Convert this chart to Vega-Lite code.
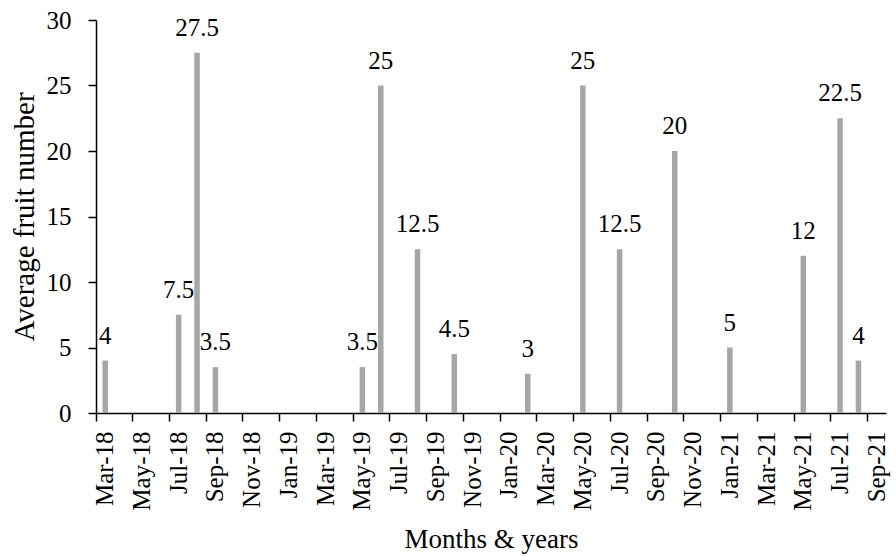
{
  "$schema": "https://vega.github.io/schema/vega-lite/v6.json",
  "width": 790,
  "height": 393,
  "autosize": {"type": "none"},
  "padding": {"left": 96, "top": 20, "right": 10, "bottom": 143},
  "background": "white",
  "config": {"view": {"stroke": null}, "font": "Liberation Serif"},
  "data": {
    "values": [
      {"month": "Mar-18", "value": 4},
      {"month": "Jul-18", "value": 7.5},
      {"month": "Aug-18", "value": 27.5},
      {"month": "Sep-18", "value": 3.5},
      {"month": "May-19", "value": 3.5},
      {"month": "Jun-19", "value": 25},
      {"month": "Aug-19", "value": 12.5},
      {"month": "Oct-19", "value": 4.5},
      {"month": "Feb-20", "value": 3},
      {"month": "May-20", "value": 25},
      {"month": "Jul-20", "value": 12.5},
      {"month": "Oct-20", "value": 20},
      {"month": "Jan-21", "value": 5},
      {"month": "May-21", "value": 12},
      {"month": "Jul-21", "value": 22.5},
      {"month": "Aug-21", "value": 4}
    ]
  },
  "encoding": {
    "x": {
      "field": "month",
      "type": "ordinal",
      "sort": null,
      "scale": {
        "domain": ["Mar-18","Apr-18","May-18","Jun-18","Jul-18","Aug-18","Sep-18","Oct-18","Nov-18","Dec-18",
                   "Jan-19","Feb-19","Mar-19","Apr-19","May-19","Jun-19","Jul-19","Aug-19","Sep-19","Oct-19","Nov-19","Dec-19",
                   "Jan-20","Feb-20","Mar-20","Apr-20","May-20","Jun-20","Jul-20","Aug-20","Sep-20","Oct-20","Nov-20","Dec-20",
                   "Jan-21","Feb-21","Mar-21","Apr-21","May-21","Jun-21","Jul-21","Aug-21","Sep-21"],
        "paddingInner": 0,
        "paddingOuter": 0
      },
      "axis": {
        "values": ["Mar-18","May-18","Jul-18","Sep-18","Nov-18","Jan-19","Mar-19","May-19","Jul-19","Sep-19","Nov-19",
                   "Jan-20","Mar-20","May-20","Jul-20","Sep-20","Nov-20","Jan-21","Mar-21","May-21","Jul-21","Sep-21"],
        "bandPosition": 0,
        "labelOffset": 0,
        "labelAngle": 270,
        "labelFontSize": 25,
        "labelColor": "black",
        "labelPadding": 10,
        "tickColor": "black",
        "tickSize": 8,
        "tickWidth": 1.5,
        "domainColor": "black",
        "domainWidth": 1.5,
        "grid": false,
        "title": "Months & years",
        "titleFontSize": 27,
        "titleFontWeight": "normal",
        "titleColor": "black",
        "titlePadding": 16
      }
    },
    "y": {
      "field": "value",
      "type": "quantitative",
      "scale": {"domain": [0, 30], "nice": false},
      "axis": {
        "values": [0, 5, 10, 15, 20, 25, 30],
        "labelFontSize": 25,
        "labelColor": "black",
        "labelPadding": 17,
        "tickColor": "black",
        "tickSize": 8,
        "tickWidth": 1.5,
        "domainColor": "black",
        "domainWidth": 1.5,
        "grid": false,
        "title": "Average fruit number",
        "titleFontSize": 29,
        "titleFontWeight": "normal",
        "titleColor": "black",
        "titleX": -72,
        "titleBaseline": "middle"
      }
    }
  },
  "layer": [
    {"mark": {"type": "bar", "color": "#a6a6a6", "size": 5.5}},
    {
      "mark": {"type": "text", "dy": -17, "baseline": "alphabetic", "fontSize": 25, "font": "Liberation Serif", "color": "black"},
      "encoding": {"text": {"field": "value", "type": "quantitative"}}
    }
  ]
}
